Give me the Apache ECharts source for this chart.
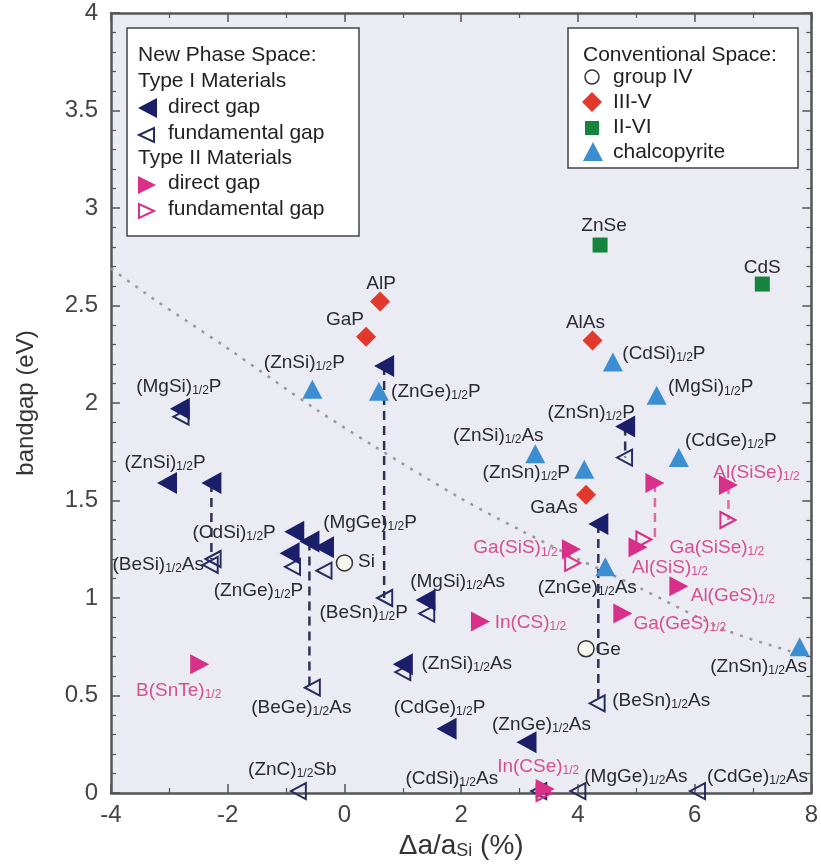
<!DOCTYPE html>
<html><head><meta charset="utf-8">
<script src="https://cdn.jsdelivr.net/npm/echarts/dist/echarts.min.js"></script>
<style>html,body{margin:0;padding:0;background:#fff}#c{width:821px;height:867px}</style>
</head><body><div id="c"></div><script>
// ---------- data ----------
const typeIDirectNames = ['(MgSi)_{1/2}P','(ZnSi)_{1/2}P','(CdSi)_{1/2}P','(ZnC)_{1/2}Sb','(BeGe)_{1/2}As','(MgGe)_{1/2}P','(ZnGe)_{1/2}P','(BeSn)_{1/2}P','(MgSi)_{1/2}As','(ZnSi)_{1/2}As','(CdGe)_{1/2}P','(ZnGe)_{1/2}As','(ZnSn)_{1/2}P','(BeSn)_{1/2}As'];
const typeIDirectX = [-2.82,-3.04,-2.28,-0.86,-0.60,-0.35,-0.94,0.68,1.39,1.00,1.75,3.12,4.81,4.35];
const typeIDirectY = [1.97,1.59,1.59,1.34,1.29,1.26,1.23,2.19,0.99,0.66,0.33,0.26,1.88,1.38];

const typeIFundNames = ['(MgSi)_{1/2}P','(CdSi)_{1/2}P','(BeSi)_{1/2}As','(ZnGe)_{1/2}P','(MgGe)_{1/2}P','(BeGe)_{1/2}As','(BeSn)_{1/2}P','(MgSi)_{1/2}As','(ZnSi)_{1/2}As','(ZnSn)_{1/2}P','(BeSn)_{1/2}As','(ZnC)_{1/2}Sb','(CdSi)_{1/2}As','(MgGe)_{1/2}As','(CdGe)_{1/2}As'];
const typeIFundX = [-2.80,-2.25,-2.30,-0.89,-0.35,-0.55,0.69,1.41,1.00,4.80,4.33,-0.79,3.33,4.00,6.05];
const typeIFundY = [1.93,1.20,1.17,1.16,1.14,0.54,1.00,0.92,0.62,1.72,0.46,0.01,0.01,0.01,0.01];

const typeIIDirectNames = ['B(SnTe)_{1/2}','In(CS)_{1/2}','Ga(GeS)_{1/2}','Al(GeS)_{1/2}','Ga(SiS)_{1/2}','Al(SiS)_{1/2}','Ga(SiSe)_{1/2}','Al(SiSe)_{1/2}','In(CSe)_{1/2}'];
const typeIIDirectX = [-2.48,2.33,4.77,5.73,3.89,5.03,5.32,6.58,3.44];
const typeIIDirectY = [0.66,0.88,0.92,1.06,1.25,1.26,1.59,1.58,0.02];

const typeIIFundNames = ['Ga(SiS)_{1/2}','Ga(SiSe)_{1/2}','Al(SiSe)_{1/2}','In(CSe)_{1/2}'];
const typeIIFundX = [3.91,5.13,6.57,3.42];
const typeIIFundY = [1.18,1.30,1.40,0.00];

const groupIVNames = ['Si','Ge'];
const groupIVX = [0.00,4.14];
const groupIVY = [1.18,0.74];

const iiivNames = ['AlP','GaP','AlAs','GaAs'];
const iiivX = [0.61,0.37,4.25,4.14];
const iiivY = [2.52,2.34,2.32,1.53];

const iiviNames = ['ZnSe','CdS'];
const iiviX = [4.38,7.16];
const iiviY = [2.81,2.61];

const chalcoNames = ['(ZnSi)_{1/2}P','(ZnGe)_{1/2}P','(CdSi)_{1/2}P','(MgSi)_{1/2}P','(ZnSi)_{1/2}As','(ZnSn)_{1/2}P','(CdGe)_{1/2}P','(ZnGe)_{1/2}As','(ZnSn)_{1/2}As'];
const chalcoX = [-0.55,0.59,4.60,5.35,3.27,4.11,5.73,4.47,7.80];
const chalcoY = [2.07,2.06,2.21,2.04,1.74,1.66,1.72,1.16,0.75];

// dotted boundary curve
const boundaryX = [-4,-3.3,-2,-0.5,0.5,2,3,4,5,6.5,7.6,7.75];
const boundaryY = [2.69,2.54,2.28,1.97,1.78,1.51,1.35,1.20,1.06,0.84,0.73,0.72];

// direct gap -> fundamental gap connectors (by material)
const typeIDashed = ['(CdSi)_{1/2}P','(BeGe)_{1/2}As','(BeSn)_{1/2}P','(ZnSn)_{1/2}P','(BeSn)_{1/2}As'];
const typeIIDashed = ['Ga(SiSe)_{1/2}','Al(SiSe)_{1/2}'];

// ---------- label placement (pixel offsets from marker centre) ----------
const labelOffsets = {
 'Id|(MgSi)_{1/2}P':[-1,-22],'Id|(ZnSi)_{1/2}P':[-2,-20],'Id|(MgGe)_{1/2}P':[46,-25],
 'Id|(MgSi)_{1/2}As':[32,-18],'Id|(ZnSi)_{1/2}As':[64,-1],'Id|(CdGe)_{1/2}P':[-7,-21],
 'Id|(ZnGe)_{1/2}As':[15,-18],'Id|(ZnSn)_{1/2}P':[-34,-14],
 'If|(CdSi)_{1/2}P':[21,-26],'If|(BeSi)_{1/2}As':[-52,0],'If|(ZnGe)_{1/2}P':[-34,24],
 'If|(BeGe)_{1/2}As':[-11,20],'If|(BeSn)_{1/2}P':[-21,15],'If|(BeSn)_{1/2}As':[64,-3],
 'If|(ZnC)_{1/2}Sb':[-6,-21],'If|(CdSi)_{1/2}As':[-87,-12],'If|(MgGe)_{1/2}As':[58,-14],
 'If|(CdGe)_{1/2}As':[60,-14],
 'IId|B(SnTe)_{1/2}':[-21,26],'IId|In(CS)_{1/2}':[50,1],'IId|Ga(GeS)_{1/2}':[57,10],
 'IId|Al(GeS)_{1/2}':[54,9],'IId|Ga(SiS)_{1/2}':[-56,-1],'IId|Al(SiS)_{1/2}':[32,20],
 'IId|Al(SiSe)_{1/2}':[28,-12],'IId|In(CSe)_{1/2}':[-7,-22],
 'IIf|Ga(SiSe)_{1/2}':[73,8],
 'G4|Si':[22,-1],'G4|Ge':[22,1],
 'G35|AlP':[1,-18],'G35|GaP':[-21,-17],'G35|AlAs':[-7,-18],'G35|GaAs':[-32,13],
 'G26|ZnSe':[4,-19],'G26|CdS':[0,-16],
 'Ch|(ZnSi)_{1/2}P':[-8,-27],'Ch|(ZnGe)_{1/2}P':[57,0],'Ch|(CdSi)_{1/2}P':[51,-8],
 'Ch|(MgSi)_{1/2}P':[54,-8],'Ch|(ZnSi)_{1/2}As':[-37,-18],'Ch|(ZnSn)_{1/2}P':[-58,3],
 'Ch|(CdGe)_{1/2}P':[52,-17],'Ch|(ZnGe)_{1/2}As':[-18,21],'Ch|(ZnSn)_{1/2}As':[-41,20]
};

// ---------- styles ----------
const NAVY='#1b1e68', PINK='#d82f88', RED='#e3382c', GREEN='#16843c', BLUE='#3d8dd2';
const TXT='#2a2a34', PINKTXT='#d4508f';
const FONT='"Liberation Sans", Arial, Helvetica, sans-serif';
const LEFT_TRI='path://M0,5L10,0L10,10Z', RIGHT_TRI='path://M10,5L0,0L0,10Z';

function fmt(n){ return n.replace(/_\{([^}]*)\}/g,'{s|$1}'); }
function pts(key,names,xs,ys,txtColor){
  return names.map((n,i)=>{
    const d={name:n,value:[xs[i],ys[i]]};
    const off=labelOffsets[key+'|'+n];
    if(off){ d.label={show:true,position:'inside',offset:off,formatter:fmt(n),color:txtColor,
      fontSize:19,fontFamily:FONT,lineHeight:20,align:'center',verticalAlign:'middle',
      rich:{s:{fontSize:12,fontFamily:FONT,color:txtColor,lineHeight:8,verticalAlign:'bottom'}}}; }
    return d;
  });
}
function scatter(name,data,symbol,size,itemStyle,z){
  itemStyle.opacity=1;
  return {type:'scatter',name,data,symbol,symbolSize:size,itemStyle,clip:false,silent:true,z:z||3,
    label:{show:false},emphasis:{disabled:true}};
}
function connectors(list,dn,dx,dy,fn,fy,color){
  return list.map(m=>{
    const i=dn.indexOf(m), j=fn.indexOf(m);
    return {type:'line',data:[[dx[i],dy[i]],[dx[i],fy[j]]],symbol:'none',silent:true,z:2,
      lineStyle:{color,width:2.5,type:[9,6]}};
  });
}

const axisLine={onZero:false,lineStyle:{color:'#555',width:2.5}};
const axisTick={inside:true,length:9,lineStyle:{color:'#555',width:1.5}};
const minorX={show:true,splitNumber:2,length:5,lineStyle:{color:'#555',width:1.2}};
const minorY={show:true,splitNumber:5,length:5,lineStyle:{color:'#555',width:1.2}};

const series = [
  {type:'line',data:boundaryX.map((x,i)=>[x,boundaryY[i]]),smooth:0.3,symbol:'none',silent:true,z:1,
   lineStyle:{color:'#9a9a9a',width:2.5,type:[3,7]}},
  ...connectors(typeIDashed,typeIDirectNames,typeIDirectX,typeIDirectY,typeIFundNames,typeIFundY,'#2e3152'),
  ...connectors(typeIIDashed,typeIIDirectNames,typeIIDirectX,typeIIDirectY,typeIIFundNames,typeIIFundY,'#e26aa2'),
  scatter('Type I fundamental',pts('If',typeIFundNames,typeIFundX,typeIFundY,TXT),LEFT_TRI,[15,16],
    {color:'rgba(255,255,255,0)',borderColor:'#262a5c',borderWidth:2},3),
  scatter('Type II fundamental',pts('IIf',typeIIFundNames,typeIIFundX,typeIIFundY,PINKTXT),RIGHT_TRI,[15,16],
    {color:'rgba(255,255,255,0)',borderColor:PINK,borderWidth:2},3),
  scatter('Type I direct',pts('Id',typeIDirectNames,typeIDirectX,typeIDirectY,TXT),LEFT_TRI,[20,22],
    {color:NAVY},4),
  scatter('Type II direct',pts('IId',typeIIDirectNames,typeIIDirectX,typeIIDirectY,PINKTXT),RIGHT_TRI,[19,20],
    {color:PINK},4),
  scatter('group IV',pts('G4',groupIVNames,groupIVX,groupIVY,TXT),'circle',16,
    {color:'#f7f7ee',borderColor:'#333',borderWidth:1.5},4),
  scatter('III-V',pts('G35',iiivNames,iiivX,iiivY,TXT),'diamond',[20,20],{color:RED},4),
  scatter('II-VI',pts('G26',iiviNames,iiviX,iiviY,TXT),'rect',[15,15],{color:GREEN},4),
  scatter('chalcopyrite',pts('Ch',chalcoNames,chalcoX,chalcoY,TXT),'triangle',[20,19],{color:BLUE},4)
];

// ---------- legend boxes ----------
function ltxt(x,y,t){ return {type:'text',x,y,z:100,style:{text:t,font:'21px '+FONT,fill:'#222',verticalAlign:'middle',align:'left'}}; }
const graphic = [
  {type:'rect',z:99,shape:{x:127,y:28,width:232,height:208},style:{fill:'#fff',stroke:'#444',lineWidth:1.5}},
  ltxt(138,55,'New Phase Space:'), ltxt(138,81,'Type I Materials'),
  {type:'polygon',z:100,shape:{points:[[138,108],[157,98],[157,118]]},style:{fill:NAVY}},
  ltxt(168,107,'direct gap'),
  {type:'polygon',z:100,shape:{points:[[139,135],[154,128],[154,142]]},style:{fill:'none',stroke:'#262a5c',lineWidth:2}},
  ltxt(168,133,'fundamental gap'), ltxt(138,158,'Type II Materials'),
  {type:'polygon',z:100,shape:{points:[[156,185],[138,176],[138,194]]},style:{fill:PINK}},
  ltxt(168,183,'direct gap'),
  {type:'polygon',z:100,shape:{points:[[154,211],[139,204],[139,218]]},style:{fill:'none',stroke:PINK,lineWidth:2}},
  ltxt(168,209,'fundamental gap'),
  {type:'rect',z:99,shape:{x:568,y:28,width:230,height:140},style:{fill:'#fff',stroke:'#444',lineWidth:1.5}},
  ltxt(583,55,'Conventional Space:'),
  {type:'circle',z:100,shape:{cx:592,cy:77,r:7},style:{fill:'#fff',stroke:'#333',lineWidth:1.5}},
  ltxt(613,77,'group IV'),
  {type:'polygon',z:100,shape:{points:[[592,92],[602,102],[592,112],[582,102]]},style:{fill:RED}},
  ltxt(613,102,'III-V'),
  {type:'rect',z:100,shape:{x:585,y:121,width:14,height:14},style:{fill:GREEN}},
  ltxt(613,127,'II-VI'),
  {type:'polygon',z:100,shape:{points:[[593,142],[603,161],[583,161]]},style:{fill:BLUE}},
  ltxt(613,152,'chalcopyrite')
];

const option = {
  backgroundColor:'#ffffff',
  animation:false,
  grid:{left:111,right:7,top:13,bottom:74,show:true,backgroundColor:'#eaebf3',borderWidth:0},
  xAxis:[
    {type:'value',min:-4,max:8,interval:2,position:'bottom',
      name:'Δa/a{s|Si} (%)',nameLocation:'middle',nameGap:32,
      nameTextStyle:{fontSize:28,fontFamily:FONT,color:'#333',rich:{s:{fontSize:18,fontFamily:FONT,color:'#333',lineHeight:8,verticalAlign:'bottom'}}},
      axisLabel:{fontSize:24,fontFamily:FONT,color:'#444',margin:10},
      axisLine,axisTick,minorTick:minorX,splitLine:{show:false}},
    {type:'value',min:-4,max:8,interval:2,position:'top',axisLabel:{show:false},
      axisLine,axisTick,minorTick:minorX,splitLine:{show:false}}
  ],
  yAxis:[
    {type:'value',min:0,max:4,interval:0.5,position:'left',
      name:'bandgap (eV)',nameLocation:'middle',nameGap:73,nameRotate:90,
      nameTextStyle:{fontSize:24,fontFamily:FONT,color:'#333'},
      axisLabel:{fontSize:24,fontFamily:FONT,color:'#444',margin:13},
      axisLine,axisTick,minorTick:minorY,splitLine:{show:false}},
    {type:'value',min:0,max:4,interval:0.5,position:'right',axisLabel:{show:false},
      axisLine,axisTick,minorTick:minorY,splitLine:{show:false}}
  ],
  graphic,
  series
};
const chart = echarts.init(document.getElementById('c'),null,{renderer:'canvas'});
chart.setOption(option);
</script></body></html>
